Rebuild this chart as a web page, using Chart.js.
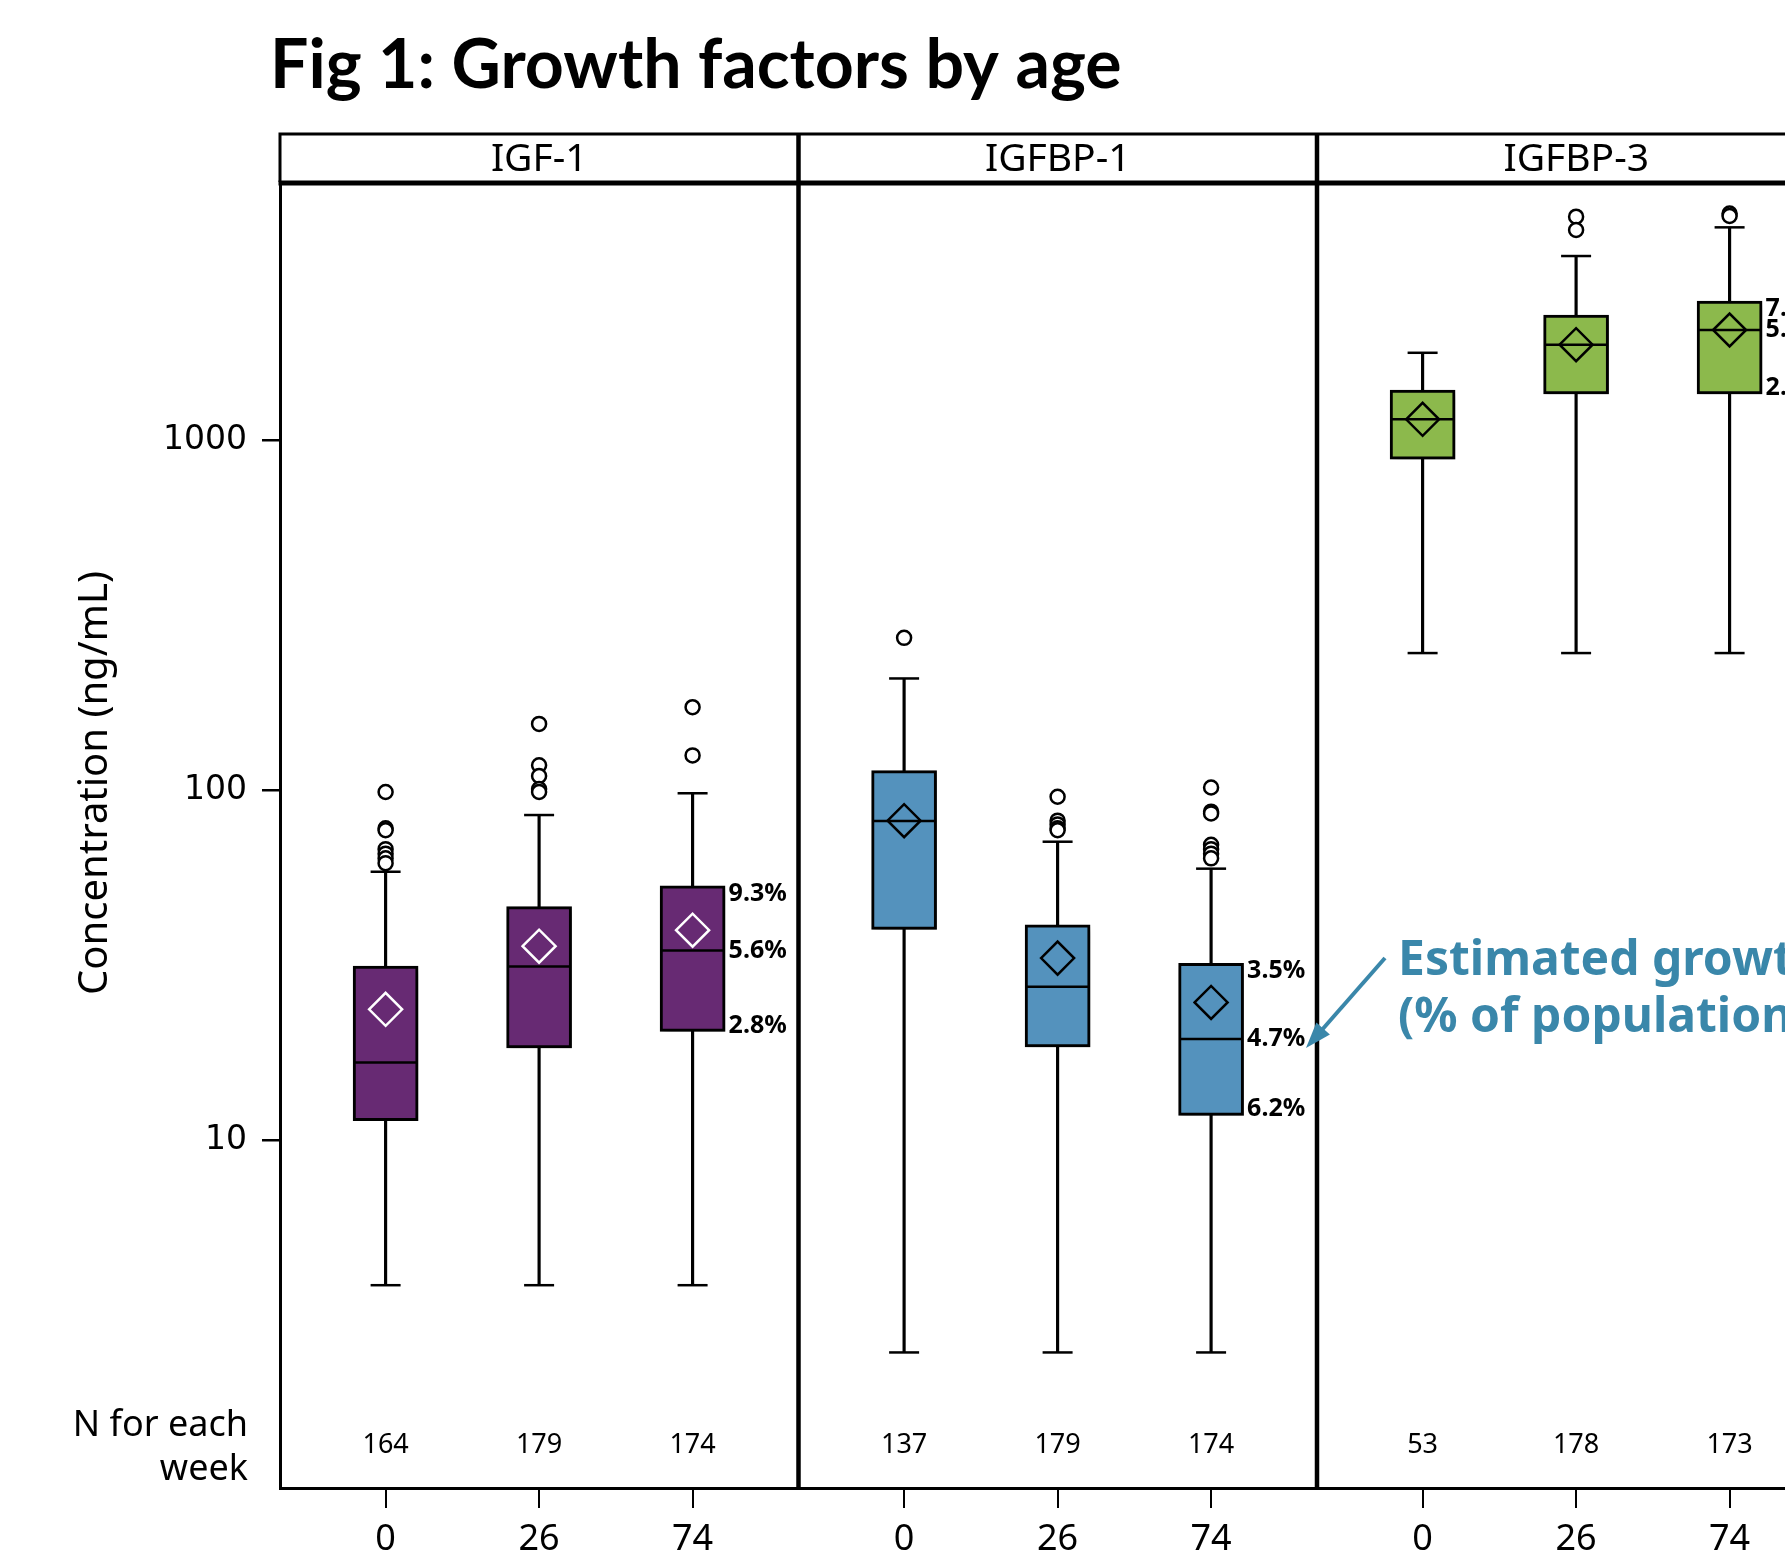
<!DOCTYPE html>
<html>
<head>
<meta charset="utf-8">
<script src="https://cdn.jsdelivr.net/npm/chart.js@4.4.1/dist/chart.umd.min.js"></script>
<style>
  html, body { margin: 0; padding: 0; background: #fff; }
  #wrap { width: 1785px; height: 1550px; overflow: hidden; }
</style>
</head>
<body>
<div id="wrap"><canvas id="boxChart" width="1785" height="1550"></canvas></div>
<script>
var panels = ['IGF-1', 'IGFBP-1', 'IGFBP-3'];
var weeks = ['0', '26', '74'];
var panelColors = ['#672a73', '#5492bd', '#8cb94c'];
var meanEdge = ['#ffffff', '#000000', '#000000'];

// one value per box: IGF-1 wk 0/26/74, IGFBP-1 wk 0/26/74, IGFBP-3 wk 0/26/74
var nCounts = [164, 179, 174, 137, 179, 174, 53, 178, 173];
var whiskerLow = [3.86, 3.86, 3.86, 2.48, 2.48, 2.48, 247, 247, 247];
var q1 = [11.4, 18.4, 20.5, 40.1, 18.5, 11.8, 885, 1358, 1358];
var median = [16.7, 31.4, 34.9, 81.8, 27.5, 19.5, 1150, 1878, 2069];
var q3 = [31.5, 46.6, 53.4, 114, 41.3, 32.1, 1394, 2284, 2503];
var whiskerHigh = [58.6, 85.1, 98.2, 209, 71.4, 59.8, 1781, 3366, 4065];
var mean = [23.7, 35.9, 39.9, 82, 33.2, 24.8, 1150, 1878, 2069];
var outliers = [
  [99, 78, 77, 68, 66, 64, 62],
  [155, 118, 110, 101, 99],
  [173, 126],
  [273],
  [96, 82, 80, 78, 77],
  [102, 87, 86, 70, 68, 66, 64],
  [],
  [4360, 3995],
  [4450, 4380]
];
// estimated growth restriction labels (top, middle, bottom of the box)
var growthLabels = [null, null, ['9.3%', '5.6%', '2.8%'],
                    null, null, ['3.5%', '4.7%', '6.2%'],
                    null, null, ['7.', '5.', '2.']];
var yTicks = [10, 100, 1000];

// x layout: each panel is PANEL_W units wide, boxes one unit apart
var PANEL_W = 3.378;
var FIRST = 0.688;
function boxX(i) { return Math.floor(i / 3) * PANEL_W + FIRST + (i % 3); }

var stems = [], boxes = [], caps = [], meds = [], means = [], outs = [];
var boxColors = [], meanColors = [];
nCounts.forEach(function (n, i) {
  var x = boxX(i);
  stems.push({x: x, y: [whiskerLow[i], whiskerHigh[i]]});
  boxes.push({x: x, y: [q1[i], q3[i]]});
  caps.push({x: x, y: whiskerLow[i]}, {x: x, y: whiskerHigh[i]});
  meds.push({x: x, y: median[i]});
  means.push({x: x, y: mean[i]});
  boxColors.push(panelColors[Math.floor(i / 3)]);
  meanColors.push(meanEdge[Math.floor(i / 3)]);
  outliers[i].forEach(function (v) { outs.push({x: x, y: v}); });
});

var decor = {
  id: 'decor',
  beforeDraw: function (chart) {
    var c = chart.ctx;
    c.save();
    c.fillStyle = '#fff';
    c.fillRect(0, 0, chart.width, chart.height);
    c.restore();
  },
  // soft drop shadow under the boxes only
  beforeDatasetDraw: function (chart, args) {
    if (args.index === 1) {
      var c = chart.ctx;
      c.save();
      c.shadowColor = 'rgba(0,0,0,0.35)';
      c.shadowBlur = 7;
      c.shadowOffsetX = 3;
      c.shadowOffsetY = 5;
    }
  },
  afterDatasetDraw: function (chart, args) {
    if (args.index === 1) chart.ctx.restore();
  },
  afterDraw: function (chart) {
    var c = chart.ctx, a = chart.chartArea, x = chart.scales.x, y = chart.scales.y;
    var headTop = 134;
    c.save();
    c.strokeStyle = '#000';
    c.fillStyle = '#000';

    // header strip
    c.lineWidth = 3;
    c.beginPath();
    c.moveTo(a.left - 1.5, headTop); c.lineTo(a.right, headTop);
    c.moveTo(a.left, headTop); c.lineTo(a.left, a.top);
    c.stroke();
    c.lineWidth = 5;
    c.beginPath();
    c.moveTo(a.left - 1.5, a.top + 1); c.lineTo(a.right, a.top + 1);
    c.stroke();

    // panel dividers and names
    c.lineWidth = 4.5;
    for (var p = 1; p < panels.length; p++) {
      var px = x.getPixelForValue(p * PANEL_W);
      c.beginPath();
      c.moveTo(px, headTop); c.lineTo(px, a.bottom);
      c.stroke();
    }
    c.font = '39px "Noto Sans"';
    c.textAlign = 'center';
    c.textBaseline = 'middle';
    panels.forEach(function (name, p) {
      c.fillText(name, x.getPixelForValue((p + 0.5) * PANEL_W), (headTop + a.top) / 2 + 2);
    });

    // N per week
    c.font = '27px "Noto Sans"';
    nCounts.forEach(function (n, i) {
      c.fillText(String(n), x.getPixelForValue(boxX(i)), a.bottom - 43);
    });
    c.font = '36px "Noto Sans"';
    c.textAlign = 'right';
    c.textBaseline = 'alphabetic';
    c.fillText('N for each', a.left - 32, 1436);
    c.fillText('week', a.left - 32, 1480);

    // growth restriction labels beside boxes
    c.font = 'bold 25px "Noto Sans"';
    c.textAlign = 'left';
    c.textBaseline = 'middle';
    growthLabels.forEach(function (lab, i) {
      if (!lab) return;
      var lx = x.getPixelForValue(boxX(i)) + 36;
      c.fillText(lab[0], lx, y.getPixelForValue(q3[i]) + 8);
      c.fillText(lab[1], lx, y.getPixelForValue(median[i]));
      c.fillText(lab[2], lx, y.getPixelForValue(q1[i]) - 6);
    });

    // annotation with arrow
    c.fillStyle = '#3a87aa';
    c.strokeStyle = '#3a87aa';
    c.font = 'bold 48px "Noto Sans"';
    c.textBaseline = 'alphabetic';
    c.fillText('Estimated growth', 1398, 975);
    c.fillText('(% of population)', 1398, 1032);
    var x0 = 1385, y0 = 958, x1 = 1306, y1 = 1048;
    var ang = Math.atan2(y1 - y0, x1 - x0);
    c.lineWidth = 4;
    c.beginPath();
    c.moveTo(x0, y0);
    c.lineTo(x1 - 20 * Math.cos(ang), y1 - 20 * Math.sin(ang));
    c.stroke();
    c.beginPath();
    c.moveTo(x1, y1);
    c.lineTo(x1 - 26 * Math.cos(ang) + 9 * Math.sin(ang), y1 - 26 * Math.sin(ang) - 9 * Math.cos(ang));
    c.lineTo(x1 - 26 * Math.cos(ang) - 9 * Math.sin(ang), y1 - 26 * Math.sin(ang) + 9 * Math.cos(ang));
    c.closePath();
    c.fill();

    // title
    c.fillStyle = '#000';
    c.font = 'bold 68px Lato';
    c.fillText('Fig 1: Growth factors by age', 270, 88);

    // y axis title
    c.translate(107, 783);
    c.rotate(-Math.PI / 2);
    c.textAlign = 'center';
    c.font = '40px "Noto Sans"';
    c.fillText('Concentration (ng/mL)', 0, 0);
    c.restore();
  }
};

var ctx = document.getElementById('boxChart').getContext('2d');
var myChart = new Chart(ctx, {
  type: 'bar',
  data: {
    datasets: [
      {
        type: 'bar',
        label: 'whiskers',
        data: stems,
        backgroundColor: '#000',
        borderWidth: 0,
        barThickness: 2.5,
        grouped: false,
        order: 5
      },
      {
        type: 'bar',
        label: 'boxes',
        data: boxes,
        backgroundColor: boxColors,
        borderColor: '#000',
        borderWidth: 3,
        borderSkipped: false,
        barThickness: 65,
        grouped: false,
        order: 4
      },
      {
        type: 'scatter',
        label: 'caps',
        data: caps,
        pointStyle: 'line',
        pointRadius: 15,
        pointHoverRadius: 15,
        pointBorderWidth: 2.5,
        pointBorderColor: '#000',
        order: 3
      },
      {
        type: 'scatter',
        label: 'median',
        data: meds,
        pointStyle: 'line',
        pointRadius: 31,
        pointHoverRadius: 31,
        pointBorderWidth: 2.5,
        pointBorderColor: '#000',
        order: 3
      },
      {
        type: 'scatter',
        label: 'mean',
        data: means,
        pointStyle: 'rectRot',
        pointRadius: 16.5,
        pointHoverRadius: 16.5,
        pointBorderWidth: 2.5,
        pointBorderColor: meanColors,
        pointBackgroundColor: 'rgba(0,0,0,0)',
        order: 2
      },
      {
        type: 'scatter',
        label: 'outliers',
        data: outs,
        pointStyle: 'circle',
        pointRadius: 7,
        pointHoverRadius: 7,
        pointBorderWidth: 2.5,
        pointBorderColor: '#000',
        pointBackgroundColor: '#fff',
        order: 1
      }
    ]
  },
  options: {
    responsive: false,
    animation: false,
    devicePixelRatio: 1,
    layout: { autoPadding: false, padding: { top: 182, left: 0, right: 0, bottom: 0 } },
    plugins: {
      legend: { display: false },
      tooltip: { enabled: false },
      title: { display: false }
    },
    scales: {
      x: {
        type: 'linear',
        min: 0,
        max: 9.805,
        bounds: 'data',
        offset: false,
        grid: { display: true, offset: false, drawOnChartArea: false, drawTicks: true, tickLength: 20, color: '#000', lineWidth: 2 },
        border: { display: true, color: '#000', width: 3 },
        afterBuildTicks: function (s) { s.ticks = nCounts.map(function (n, i) { return {value: boxX(i)}; }); },
        afterFit: function (s) { s.height = 62; },
        ticks: {
          autoSkip: false,
          maxRotation: 0,
          padding: 10,
          color: '#000',
          font: { family: 'Noto Sans', size: 36 },
          callback: function (v, i) { return weeks[i % 3]; }
        }
      },
      y: {
        type: 'logarithmic',
        min: 1.0166,
        max: 5478,
        bounds: 'data',
        grid: { display: true, drawOnChartArea: false, drawTicks: true, tickLength: 18, color: '#000', lineWidth: 2.5 },
        border: { display: true, color: '#000', width: 3 },
        afterBuildTicks: function (s) { s.ticks = yTicks.map(function (v) { return {value: v}; }); },
        afterFit: function (s) { s.width = 280; },
        ticks: {
          padding: 15,
          color: '#000',
          font: { family: 'DejaVu Sans', size: 33 },
          callback: function (v) { return String(v); }
        }
      }
    }
  },
  plugins: [decor]
});
</script>
</body>
</html>
